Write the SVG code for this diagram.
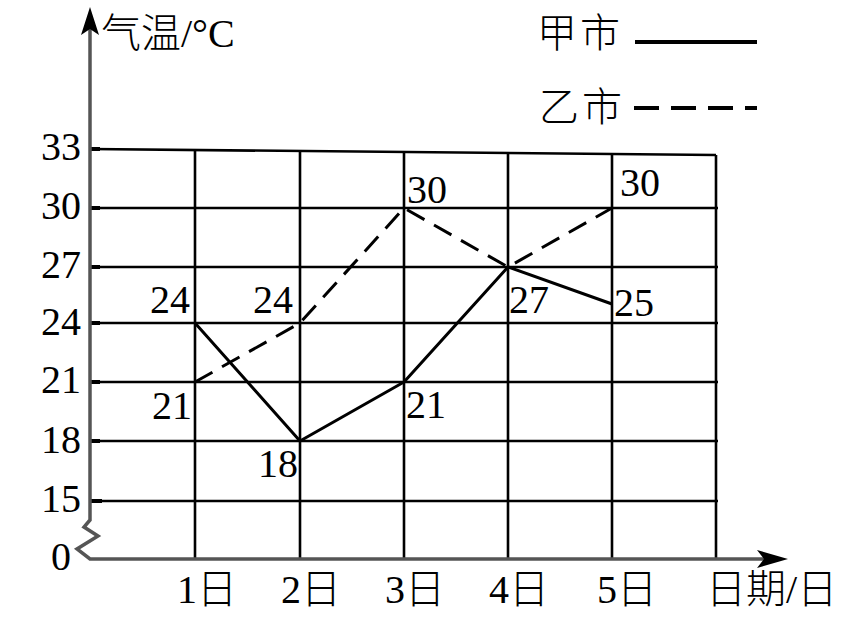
<svg xmlns="http://www.w3.org/2000/svg" width="867" height="618" viewBox="0 0 867 618">
<style>
.grid{stroke:#000;stroke-width:2.6;fill:none}
.axis{stroke:#555;stroke-width:3.5;fill:none}
.tick{stroke:#000;stroke-width:4}
.jia{stroke:#000;stroke-width:3;fill:none;stroke-linejoin:round}
.yi{stroke:#000;stroke-width:3;fill:none;stroke-dasharray:20 11}
text{font-family:'Liberation Serif','Times New Roman','DejaVu Serif',serif;font-size:40px;fill:#000}
.num{font-family:'Liberation Serif',serif}
.cjk{font-family:'Noto Sans CJK SC',sans-serif;font-weight:300}
.end{text-anchor:end}
</style>
<rect width="867" height="618" fill="#fff"/>
<g id="grid">
<line class="grid" x1="90" y1="149" x2="716" y2="155"/>
<line class="grid" x1="90" y1="208" x2="718" y2="208"/>
<line class="grid" x1="90" y1="267" x2="718" y2="267"/>
<line class="grid" x1="90" y1="323" x2="718" y2="323"/>
<line class="grid" x1="90" y1="382" x2="718" y2="382"/>
<line class="grid" x1="90" y1="441" x2="718" y2="441"/>
<line class="grid" x1="90" y1="501" x2="718" y2="501"/>
<line class="grid" x1="195" y1="150" x2="195" y2="559"/>
<line class="grid" x1="300" y1="151" x2="300" y2="559"/>
<line class="grid" x1="404" y1="152" x2="404" y2="559"/>
<line class="grid" x1="508" y1="153" x2="508" y2="559"/>
<line class="grid" x1="612" y1="154" x2="612" y2="559"/>
<line class="grid" x1="716" y1="155" x2="716" y2="559"/>
</g>
<g id="ticks">
<line class="tick" x1="90" y1="149" x2="100" y2="149"/>
<line class="tick" x1="90" y1="208" x2="100" y2="208"/>
<line class="tick" x1="90" y1="267" x2="100" y2="267"/>
<line class="tick" x1="90" y1="323" x2="100" y2="323"/>
<line class="tick" x1="90" y1="382" x2="100" y2="382"/>
<line class="tick" x1="90" y1="441" x2="100" y2="441"/>
<line class="tick" x1="90" y1="501" x2="102" y2="501"/>
</g>
<g id="axes">
<polyline class="axis" points="90,28 90,520 84,527 98,536 77,549 90,559 770,559"/>
<path d="M90,7 L99,35 L90,29 L81,35 Z" fill="#000"/>
<path d="M788,559 L757,550 L764,559 L757,568 Z" fill="#000"/>
</g>
<g id="connectors">
<polyline class="jia" points="195,323 300,441 404,382 508,267 612,304"/>
<polyline class="yi" points="195,382 300,323 404,208 508,267 612,208"/>
</g>
<g id="y-labels">
<text class="num end" x="81" y="160">33</text>
<text class="num end" x="81" y="219">30</text>
<text class="num end" x="81" y="278">27</text>
<text class="num end" x="81" y="335">24</text>
<text class="num end" x="81" y="393">21</text>
<text class="num end" x="81" y="453">18</text>
<text class="num end" x="81" y="512">15</text>
<text class="num end" x="71" y="570">0</text>
</g>
<g id="x-labels">
<text x="177" y="603">1<tspan class="cjk">日</tspan></text>
<text x="281" y="603">2<tspan class="cjk">日</tspan></text>
<text x="385" y="603">3<tspan class="cjk">日</tspan></text>
<text x="489" y="603">4<tspan class="cjk">日</tspan></text>
<text x="597" y="603">5<tspan class="cjk">日</tspan></text>
<text x="706" y="603"><tspan class="cjk">日期</tspan>/<tspan class="cjk">日</tspan></text>
</g>
<g id="title">
<text x="101" y="47"><tspan class="cjk">气温</tspan>/°C</text>
</g>
<g id="legend">
<text class="cjk" x="537" y="47" letter-spacing="3">甲市</text>
<line x1="635" y1="42" x2="757" y2="42" stroke="#000" stroke-width="4"/>
<text class="cjk" x="539" y="121" letter-spacing="3">乙市</text>
<line x1="634" y1="108" x2="757" y2="108" stroke="#000" stroke-width="4" stroke-dasharray="25 12"/>
</g>
<g id="data-labels">
<text class="num end" x="190" y="313">24</text>
<text class="num end" x="293" y="313">24</text>
<text class="num end" x="192" y="419">21</text>
<text class="num end" x="298" y="477">18</text>
<text class="num" x="406" y="418">21</text>
<text class="num" x="407" y="203">30</text>
<text class="num" x="620" y="196">30</text>
<text class="num" x="509" y="313">27</text>
<text class="num" x="614" y="316">25</text>
</g>
</svg>
